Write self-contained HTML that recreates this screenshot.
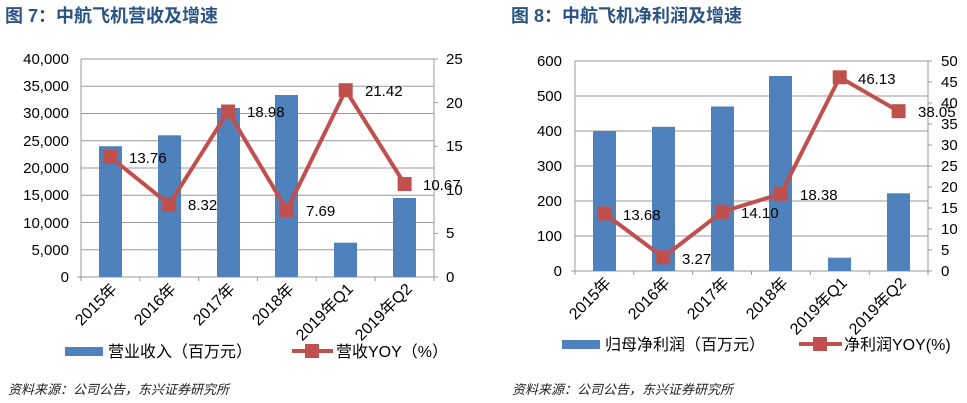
<!DOCTYPE html>
<html><head><meta charset="utf-8"><style>
body{margin:0;background:#fff}
svg{display:block;font-family:"Liberation Sans","Noto Sans CJK SC",sans-serif}
</style></head><body>
<svg width="967" height="403" viewBox="0 0 967 403">
<g font-weight="bold" fill="#2b5486" font-size="18">
<text x="5" y="22">图 7：中航飞机营收及增速</text>
<text x="511" y="22">图 8：中航飞机净利润及增速</text>
</g>
<!-- Chart 1 -->
<g stroke="#999" stroke-width="1">
<line x1="81" x2="434" y1="59" y2="59"/><line x1="81" x2="434" y1="86.25" y2="86.25"/><line x1="81" x2="434" y1="113.5" y2="113.5"/><line x1="81" x2="434" y1="140.75" y2="140.75"/><line x1="81" x2="434" y1="168" y2="168"/><line x1="81" x2="434" y1="195.25" y2="195.25"/><line x1="81" x2="434" y1="222.5" y2="222.5"/><line x1="81" x2="434" y1="249.75" y2="249.75"/>
<line x1="81" x2="81" y1="59" y2="277"/><line x1="434" x2="434" y1="59" y2="281"/>
<line x1="77" x2="434" y1="277" y2="277"/>
<line x1="139.8" x2="139.8" y1="277" y2="281"/><line x1="198.7" x2="198.7" y1="277" y2="281"/><line x1="257.5" x2="257.5" y1="277" y2="281"/><line x1="316.3" x2="316.3" y1="277" y2="281"/><line x1="375.2" x2="375.2" y1="277" y2="281"/><line x1="81" x2="81" y1="277" y2="281"/>
<line x1="434" x2="438" y1="59" y2="59"/><line x1="434" x2="438" y1="102.6" y2="102.6"/><line x1="434" x2="438" y1="146.2" y2="146.2"/><line x1="434" x2="438" y1="189.8" y2="189.8"/><line x1="434" x2="438" y1="233.4" y2="233.4"/><line x1="434" x2="438" y1="277" y2="277"/>
</g>
<g fill="#4f81bd">
<rect x="99" y="146.2" width="23" height="130.8"/><rect x="158" y="135.3" width="23" height="141.7"/><rect x="217" y="108" width="23" height="169"/><rect x="275" y="95" width="23" height="182"/><rect x="334" y="242.7" width="23" height="34.3"/><rect x="393" y="198" width="23" height="79"/>
</g>
<polyline points="110.4,157 169.2,204.4 228.1,111.5 286.9,210 345.7,90.2 404.6,184" fill="none" stroke="#c0504d" stroke-width="4"/>
<g fill="#c0504d">
<rect x="103.4" y="150" width="14" height="14"/><rect x="162.2" y="197.4" width="14" height="14"/><rect x="221.1" y="104.5" width="14" height="14"/><rect x="279.9" y="203" width="14" height="14"/><rect x="338.7" y="83.2" width="14" height="14"/><rect x="397.6" y="177" width="14" height="14"/>
</g>
<g font-size="15" fill="#000">
<text x="129" y="163">13.76</text><text x="188" y="210">8.32</text><text x="247" y="117">18.98</text><text x="306" y="216">7.69</text><text x="365" y="96">21.42</text><text x="423" y="190">10.67</text>
</g>
<g font-size="15" fill="#000" text-anchor="end">
<text x="69" y="64">40,000</text><text x="69" y="91">35,000</text><text x="69" y="118">30,000</text><text x="69" y="146">25,000</text><text x="69" y="173">20,000</text><text x="69" y="200">15,000</text><text x="69" y="228">10,000</text><text x="69" y="255">5,000</text><text x="69" y="282">0</text>
</g>
<g font-size="15" fill="#000">
<text x="446" y="64">25</text><text x="446" y="108">20</text><text x="446" y="151">15</text><text x="446" y="195">10</text><text x="446" y="238">5</text><text x="446" y="282">0</text>
</g>
<g font-size="16" fill="#000" text-anchor="end">
<text transform="translate(118,290) rotate(-45)">2015年</text>
<text transform="translate(177,290) rotate(-45)">2016年</text>
<text transform="translate(236,290) rotate(-45)">2017年</text>
<text transform="translate(295,290) rotate(-45)">2018年</text>
<text transform="translate(354,290) rotate(-45)">2019年Q1</text>
<text transform="translate(413,290) rotate(-45)">2019年Q2</text>
</g>
<rect x="65" y="347" width="38" height="9" fill="#4f81bd"/>
<text x="108" y="357" font-size="16">营业收入（百万元）</text>
<line x1="292" x2="333" y1="351" y2="351" stroke="#c0504d" stroke-width="4"/>
<rect x="305" y="344" width="14" height="14" fill="#c0504d"/>
<text x="336" y="357" font-size="16">营收YOY（%）</text>
<text x="8" y="394" font-size="13" font-style="italic" fill="#222">资料来源：公司公告，东兴证券研究所</text>

<!-- Chart 2 -->
<g stroke="#999" stroke-width="1">
<line x1="575" x2="928" y1="61" y2="61"/><line x1="575" x2="928" y1="96" y2="96"/><line x1="575" x2="928" y1="131" y2="131"/><line x1="575" x2="928" y1="166" y2="166"/><line x1="575" x2="928" y1="201" y2="201"/><line x1="575" x2="928" y1="236" y2="236"/>
<line x1="575" x2="575" y1="61" y2="275"/><line x1="928" x2="928" y1="61" y2="275"/>
<line x1="571" x2="928" y1="271" y2="271"/>
<line x1="633.8" x2="633.8" y1="271" y2="275"/><line x1="692.7" x2="692.7" y1="271" y2="275"/><line x1="751.5" x2="751.5" y1="271" y2="275"/><line x1="810.3" x2="810.3" y1="271" y2="275"/><line x1="869.2" x2="869.2" y1="271" y2="275"/>
<line x1="928" x2="932" y1="61" y2="61"/><line x1="928" x2="932" y1="82" y2="82"/><line x1="928" x2="932" y1="103" y2="103"/><line x1="928" x2="932" y1="124" y2="124"/><line x1="928" x2="932" y1="145" y2="145"/><line x1="928" x2="932" y1="166" y2="166"/><line x1="928" x2="932" y1="187" y2="187"/><line x1="928" x2="932" y1="208" y2="208"/><line x1="928" x2="932" y1="229" y2="229"/><line x1="928" x2="932" y1="250" y2="250"/><line x1="928" x2="932" y1="271" y2="271"/>
</g>
<g fill="#4f81bd">
<rect x="593" y="131" width="23" height="140"/><rect x="652" y="126.8" width="23" height="144.2"/><rect x="711" y="106.5" width="23" height="164.5"/><rect x="769" y="76" width="23" height="195"/><rect x="828" y="257.7" width="23" height="13.3"/><rect x="887" y="193.3" width="23" height="77.7"/>
</g>
<polyline points="604.4,213.5 663.2,257.3 722.1,211.8 780.9,193.8 839.7,77.3 898.6,111.2" fill="none" stroke="#c0504d" stroke-width="4"/>
<g fill="#c0504d">
<rect x="597.4" y="206.5" width="14" height="14"/><rect x="656.2" y="250.3" width="14" height="14"/><rect x="715.1" y="204.8" width="14" height="14"/><rect x="773.9" y="186.8" width="14" height="14"/><rect x="832.7" y="70.3" width="14" height="14"/><rect x="891.6" y="104.2" width="14" height="14"/>
</g>
<g font-size="15" fill="#000">
<text x="623" y="220">13.68</text><text x="682" y="264">3.27</text><text x="741" y="218">14.10</text><text x="800" y="200">18.38</text><text x="858" y="84">46.13</text><text x="918" y="117">38.05</text>
</g>
<g font-size="15" fill="#000" text-anchor="end">
<text x="562" y="66">600</text><text x="562" y="101">500</text><text x="562" y="136">400</text><text x="562" y="171">300</text><text x="562" y="206">200</text><text x="562" y="241">100</text><text x="562" y="276">0</text>
</g>
<g font-size="15" fill="#000">
<text x="941" y="66">50</text><text x="941" y="87">45</text><text x="941" y="108">40</text><text x="941" y="129">35</text><text x="941" y="150">30</text><text x="941" y="171">25</text><text x="941" y="192">20</text><text x="941" y="213">15</text><text x="941" y="234">10</text><text x="941" y="255">5</text><text x="941" y="276">0</text>
</g>
<g font-size="16" fill="#000" text-anchor="end">
<text transform="translate(612,284) rotate(-45)">2015年</text>
<text transform="translate(671,284) rotate(-45)">2016年</text>
<text transform="translate(730,284) rotate(-45)">2017年</text>
<text transform="translate(789,284) rotate(-45)">2018年</text>
<text transform="translate(848,284) rotate(-45)">2019年Q1</text>
<text transform="translate(907,284) rotate(-45)">2019年Q2</text>
</g>
<rect x="562" y="340" width="38" height="9" fill="#4f81bd"/>
<text x="605" y="350" font-size="16">归母净利润（百万元）</text>
<line x1="799" x2="842" y1="344" y2="344" stroke="#c0504d" stroke-width="4"/>
<rect x="813" y="337" width="14" height="14" fill="#c0504d"/>
<text x="844" y="350" font-size="16">净利润YOY(%)</text>
<text x="512" y="394" font-size="13" font-style="italic" fill="#222">资料来源：公司公告，东兴证券研究所</text>
</svg>
</body></html>
